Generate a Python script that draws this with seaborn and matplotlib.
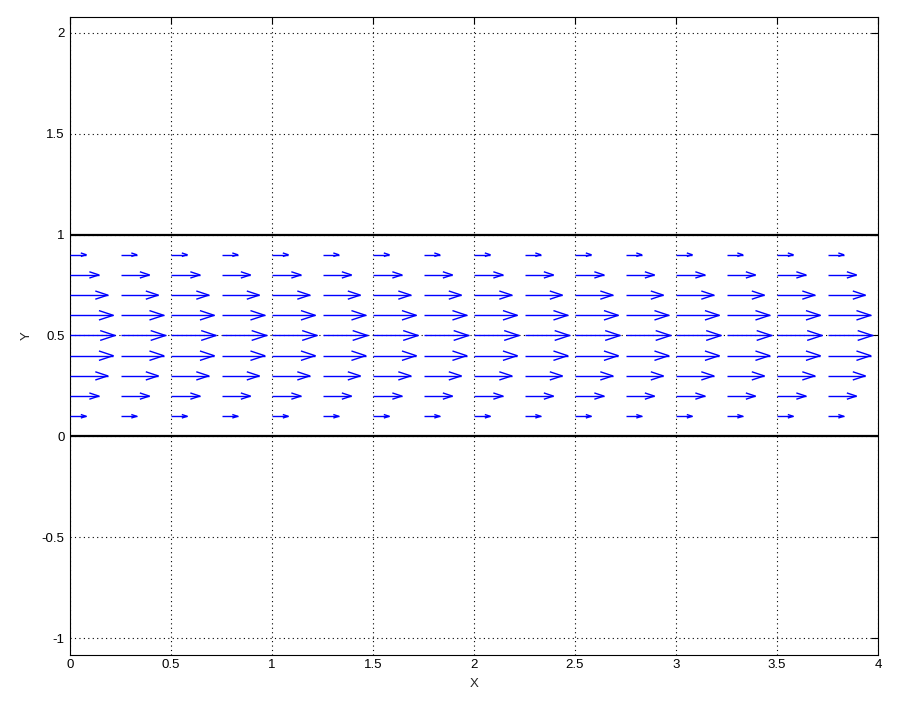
import numpy as np
import matplotlib
matplotlib.use("Agg")
import matplotlib.pyplot as plt
import seaborn as sns
import pandas as pd
from matplotlib.collections import LineCollection

# ---- data ----
x_grid = [0.0, 0.25, 0.5, 0.75, 1.0, 1.25, 1.5, 1.75, 2.0, 2.25, 2.5, 2.75, 3.0, 3.25, 3.5, 3.75]
y_grid = [0.1, 0.2, 0.3, 0.4, 0.5, 0.6, 0.7, 0.8, 0.9]
u_values = [0.080, 0.143, 0.187, 0.214, 0.223, 0.214, 0.187, 0.143, 0.080]  # drawn arrow length per row
walls_y = [0.0, 1.0]
x_ticks = [0, 0.5, 1, 1.5, 2, 2.5, 3, 3.5, 4]
x_tick_labels = ["0", "0.5", "1", "1.5", "2", "2.5", "3", "3.5", "4"]
y_ticks = [-1, -0.5, 0, 0.5, 1, 1.5, 2]
y_tick_labels = ["-1", "-0.5", "0", "0.5", "1", "1.5", "2"]

sns.set_style("white")
plt.rcParams['font.family'] = ['Liberation Sans', 'DejaVu Sans']

fig = plt.figure(figsize=(9.05, 7.08), dpi=100)
ax = fig.add_axes([70/905, 1-655/708, (878-70)/905, (655-17)/708])

# walls
walls = pd.DataFrame({"x": [0, 4, 0, 4], "y": [walls_y[0], walls_y[0], walls_y[1], walls_y[1]],
                      "w": ["bottom", "bottom", "top", "top"]})
sns.lineplot(data=walls, x="x", y="y", units="w", estimator=None, color="black", lw=1.6, ax=ax, zorder=3)

# MATLAB-style quiver arrows
alpha, beta = 0.33, 0.33
segs = []
for yv, u in zip(y_grid, u_values):
    for xv in x_grid:
        tip = xv + u
        segs.append([(xv, yv), (tip, yv)])
        segs.append([(tip - alpha * u, yv + alpha * beta * u), (tip, yv), (tip - alpha * u, yv - alpha * beta * u)])
ax.add_collection(LineCollection(segs, colors=(0, 0, 1), linewidths=1.0, zorder=4))

ax.set_xlim(0, 4)
ax.set_ylim(-1.082, 2.077)
ax.set_xticks(x_ticks)
ax.set_xticklabels(x_tick_labels)
ax.set_yticks(y_ticks)
ax.set_yticklabels(y_tick_labels)
ax.grid(True, linestyle=(0, (1, 3)), color="black", linewidth=0.8)
ax.tick_params(direction="in", length=5, width=0.8, labelsize=9.5, top=True, right=True, pad=4, colors="black")
ax.tick_params(axis="x", pad=3)
for s in ax.spines.values():
    s.set_linewidth(0.8)
    s.set_color("black")
ax.set_xlabel("X", fontsize=9.5, labelpad=5)
ax.set_ylabel("Y", fontsize=9.5, labelpad=6)

fig.savefig("out.png", dpi=100)
